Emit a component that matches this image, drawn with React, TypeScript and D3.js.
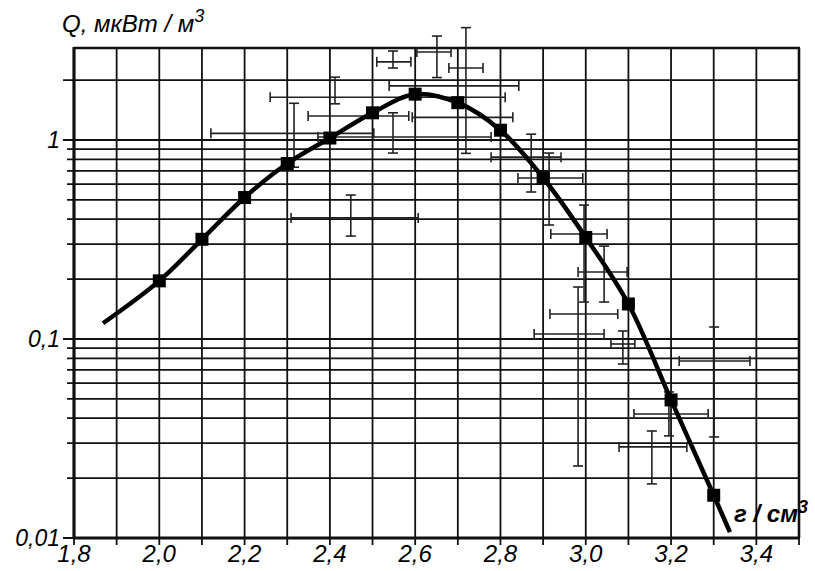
import React from "react";
import * as d3 from "d3";

// Axis labels
const densityLabelValues = [1.8, 2.0, 2.2, 2.4, 2.6, 2.8, 3.0, 3.2, 3.4];
const densityLabels = ["1,8", "2,0", "2,2", "2,4", "2,6", "2,8", "3,0", "3,2", "3,4"];
const powerLabelValues = [0.01, 0.1, 1];
const powerLabels = ["0,01", "0,1", "1"];

// Fitted curve: nodes marked with squares
const fitDensity = [2.0, 2.1, 2.2, 2.3, 2.4, 2.5, 2.6, 2.7, 2.8, 2.9, 3.0, 3.1, 3.2, 3.3];
const fitPower = [0.196, 0.317, 0.514, 0.762, 1.023, 1.37, 1.7, 1.54, 1.12, 0.646, 0.324, 0.15, 0.0494, 0.0164];
// Curve tails beyond the marked nodes
const tailDensity = [1.868, 3.338];
const tailPower = [0.12, 0.0107];

// Measurements with error ranges (null: no vertical range drawn)
const measDensity = [2.548, 2.651, 2.719, 2.691, 2.412, 2.548, 2.71, 2.316, 2.575, 2.872, 2.914, 2.996, 3.043, 2.996, 2.982, 3.087, 3.301, 3.195, 3.155, 2.449];
const measDensityLo = [2.51, 2.604, 2.679, 2.539, 2.26, 2.349, 2.593, 2.121, 2.372, 2.778, 2.841, 2.918, 2.982, 2.916, 2.879, 3.059, 3.219, 3.113, 3.078, 2.309];
const measDensityHi = [2.59, 2.684, 2.759, 2.843, 2.811, 2.585, 2.829, 2.503, 2.778, 2.942, 2.993, 3.05, 3.097, 3.075, 3.043, 3.115, 3.385, 3.287, 3.237, 2.607];
const measPower = [2.47, 2.77, 2.3, 1.87, 1.64, 1.32, 1.3, 1.08, 1.035, 0.82, 0.644, 0.337, 0.217, 0.1335, 0.106, 0.0944, 0.0775, 0.042, 0.0287, 0.406];
const measPowerLo: (number | null)[] = [2.3, 2.06, 0.857, null, 1.52, 0.86, null, 0.73, null, 0.548, 0.374, 0.1534, 0.1534, null, 0.023, 0.0749, 0.0322, 0.0326, 0.0187, 0.329];
const measPowerHi: (number | null)[] = [2.8, 3.33, 3.67, null, 2.07, 1.37, null, 1.53, null, 1.07, 0.86, 0.471, 0.293, null, 0.1825, 0.1097, 0.1149, 0.0542, 0.0345, 0.529];

const W = 815;
const H = 571;
const LEFT = 74;
const RIGHT = 799;
const TOP = 48;
const BOTTOM = 538;
const INK = "#111";
const FONT = "'Liberation Sans', Arial, sans-serif";

export default function App() {
  const x = d3.scaleLinear().domain([1.8, 3.5]).range([LEFT, RIGHT]);
  const y = d3.scaleLog().domain([0.01, 2.9]).range([BOTTOM, TOP]);

  const xGrid = d3.range(18).map((i) => +(1.8 + i * 0.1).toFixed(1));
  const yGrid = y.ticks();
  const majorY = new Set([0.01, 0.1, 1, 2]);

  const curvePts: [number, number][] = [
    [tailDensity[0], tailPower[0]],
    ...fitDensity.map((d, i) => [d, fitPower[i]] as [number, number]),
    [tailDensity[1], tailPower[1]],
  ];
  const line = d3
    .line<[number, number]>()
    .x((d) => x(d[0]))
    .y((d) => y(d[1]))
    .curve(d3.curveCatmullRom.alpha(0.5));

  const cap = 5;
  const sq = 13;

  return (
    <svg width={W} height={H} style={{ position: "absolute", left: 0, top: 0, background: "#fff" }}>
      <rect width={W} height={H} fill="#fff" />
      {/* horizontal grid */}
      {yGrid.map((v) => (
        <line
          key={"hy" + v}
          x1={majorY.has(+v.toPrecision(3)) ? LEFT - 11 : LEFT - 7}
          x2={RIGHT}
          y1={y(v)}
          y2={y(v)}
          stroke={INK}
          strokeWidth={1.8}
        />
      ))}
      {/* vertical grid + ticks */}
      {xGrid.map((v) => (
        <line key={"vx" + v} x1={x(v)} x2={x(v)} y1={TOP} y2={BOTTOM + 7} stroke={INK} strokeWidth={1.8} />
      ))}
      {/* frame */}
      <line x1={LEFT} x2={RIGHT + 1} y1={TOP} y2={TOP} stroke={INK} strokeWidth={2.6} />
      <line x1={RIGHT} x2={RIGHT} y1={TOP} y2={BOTTOM} stroke={INK} strokeWidth={2.6} />
      <line x1={LEFT} x2={LEFT} y1={TOP - 1} y2={BOTTOM} stroke={INK} strokeWidth={3.2} />
      <line x1={LEFT - 1} x2={RIGHT + 1} y1={BOTTOM} y2={BOTTOM} stroke={INK} strokeWidth={3.2} />

      {/* error bars */}
      {measDensity.map((d, i) => {
        const cx = x(d);
        const cy = y(measPower[i]);
        const x0 = x(measDensityLo[i]);
        const x1 = x(measDensityHi[i]);
        const lo = measPowerLo[i];
        const hi = measPowerHi[i];
        return (
          <g key={"e" + i} stroke="#222" strokeWidth={1.6} fill="none">
            <line x1={x0} x2={x1} y1={cy} y2={cy} />
            <line x1={x0} x2={x0} y1={cy - cap} y2={cy + cap} />
            <line x1={x1} x2={x1} y1={cy - cap} y2={cy + cap} />
            {lo !== null && hi !== null && (
              <>
                <line x1={cx} x2={cx} y1={y(hi)} y2={y(lo)} />
                <line x1={cx - cap} x2={cx + cap} y1={y(hi)} y2={y(hi)} />
                <line x1={cx - cap} x2={cx + cap} y1={y(lo)} y2={y(lo)} />
              </>
            )}
          </g>
        );
      })}

      {/* fitted curve */}
      <path d={line(curvePts) || ""} fill="none" stroke="#000" strokeWidth={4.5} strokeLinecap="butt" />
      {fitDensity.map((d, i) => (
        <rect key={"s" + i} x={x(d) - sq / 2} y={y(fitPower[i]) - sq / 2} width={sq} height={sq} fill="#000" />
      ))}

      {/* x labels */}
      {densityLabelValues.map((v, i) => (
        <text
          key={"xl" + v}
          x={x(v)}
          y={BOTTOM + 24}
          textAnchor="middle"
          fontFamily={FONT}
          fontStyle="italic"
          fontSize={24}
          fill="#000"
        >
          {densityLabels[i]}
        </text>
      ))}
      {/* y labels */}
      {powerLabelValues.map((v, i) => (
        <text
          key={"yl" + v}
          x={LEFT - 14}
          y={y(v) + 8}
          textAnchor="end"
          fontFamily={FONT}
          fontStyle="italic"
          fontSize={23}
          fill="#000"
        >
          {powerLabels[i]}
        </text>
      ))}

      {/* axis titles */}
      <text x={62} y={32} fontFamily={FONT} fontStyle="italic" fontSize={24} fill="#000">
        Q, мкВт / м
        <tspan fontSize={18} dy={-10}>3</tspan>
      </text>
      <text x={734} y={522} fontFamily={FONT} fontStyle="italic" fontWeight="bold" fontSize={24} fill="#000">
        г / см
        <tspan fontSize={18} dy={-9}>3</tspan>
      </text>
    </svg>
  );
}
